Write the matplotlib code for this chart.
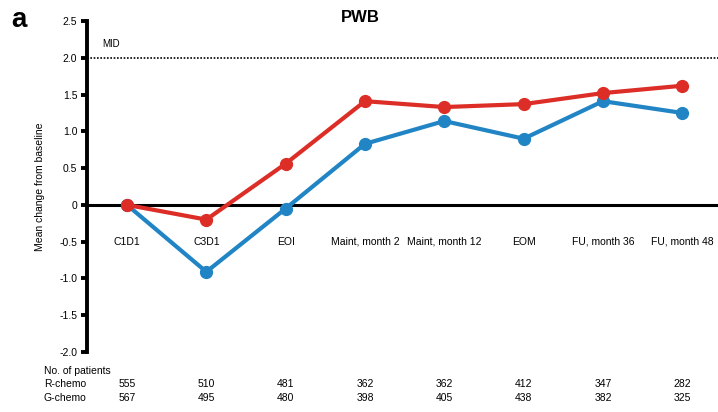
import matplotlib
matplotlib.use("Agg")
import matplotlib.pyplot as plt

plt.rcParams['font.family'] = ['Liberation Sans', 'DejaVu Sans']

categories = ["C1D1", "C3D1", "EOI", "Maint, month 2", "Maint, month 12", "EOM", "FU, month 36", "FU, month 48"]
r_chemo = [0.0, -0.20, 0.56, 1.41, 1.33, 1.37, 1.52, 1.62]
g_chemo = [0.0, -0.91, -0.05, 0.83, 1.14, 0.90, 1.41, 1.25]
r_n = [555, 510, 481, 362, 362, 412, 347, 282]
g_n = [567, 495, 480, 398, 405, 438, 382, 325]
yticks = [2.5, 2.0, 1.5, 1.0, 0.5, 0, -0.5, -1.0, -1.5, -2.0]
ytick_labels = ["2.5", "2.0", "1.5", "1.0", "0.5", "0", "-0.5", "-1.0", "-1.5", "-2.0"]
mid = 2.0

RED = "#dc2e26"
BLUE = "#2185c5"

fig = plt.figure(figsize=(7.18, 4.12), dpi=100)
ax = fig.add_axes([87/718, 1-352/412, 1-87/718, (352-21)/412])

x = list(range(len(categories)))
ax.set_xlim(-0.504, 7.45)
ax.set_ylim(-2.0, 2.5)

ax.axhline(0, color="black", lw=2.2, zorder=2)
ax.axhline(mid, color="black", lw=1.2, ls=(0, (1, 1)), zorder=2)
ax.text(-0.31, mid + 0.12, "MID", fontsize=7, va="bottom", ha="left")

ax.plot(x, g_chemo, color=BLUE, lw=3, marker="o", ms=8.5, zorder=3)
ax.plot(x, r_chemo, color=RED, lw=3, marker="o", ms=8.5, zorder=4)

for xi, c in zip(x, categories):
    ax.text(xi, -0.5, c, ha="center", va="center", fontsize=7.5)

for s in ["top", "right", "bottom"]:
    ax.spines[s].set_visible(False)
ax.spines["left"].set_linewidth(2.8)
ax.set_xticks([])
ax.set_yticks(yticks)
ax.set_yticklabels(ytick_labels, fontsize=7.5)
ax.tick_params(axis="y", direction="out", length=4, width=2.8, pad=3)
ax.set_ylabel("Mean change from baseline", fontsize=7.5, labelpad=10)

fig.text(360/718, 1-18/412, "PWB", ha="center", va="center", fontsize=12, fontweight="bold")
fig.text(11/718, 1-20/412, "a", ha="left", va="center", fontsize=20, fontweight="bold")

def xfig(xi):
    return ax.transData.transform((xi, 0))[0] / fig.bbox.width

fig.text(44/718, 1-371/412, "No. of patients", fontsize=7.5, va="center", ha="left")
fig.text(44/718, 1-384/412, "R-chemo", fontsize=7.5, va="center", ha="left")
fig.text(44/718, 1-398/412, "G-chemo", fontsize=7.5, va="center", ha="left")
for xi, rn, gn in zip(x, r_n, g_n):
    fig.text(xfig(xi), 1-384/412, str(rn), fontsize=7.5, va="center", ha="center")
    fig.text(xfig(xi), 1-398/412, str(gn), fontsize=7.5, va="center", ha="center")

fig.savefig("out.png", dpi=100)
